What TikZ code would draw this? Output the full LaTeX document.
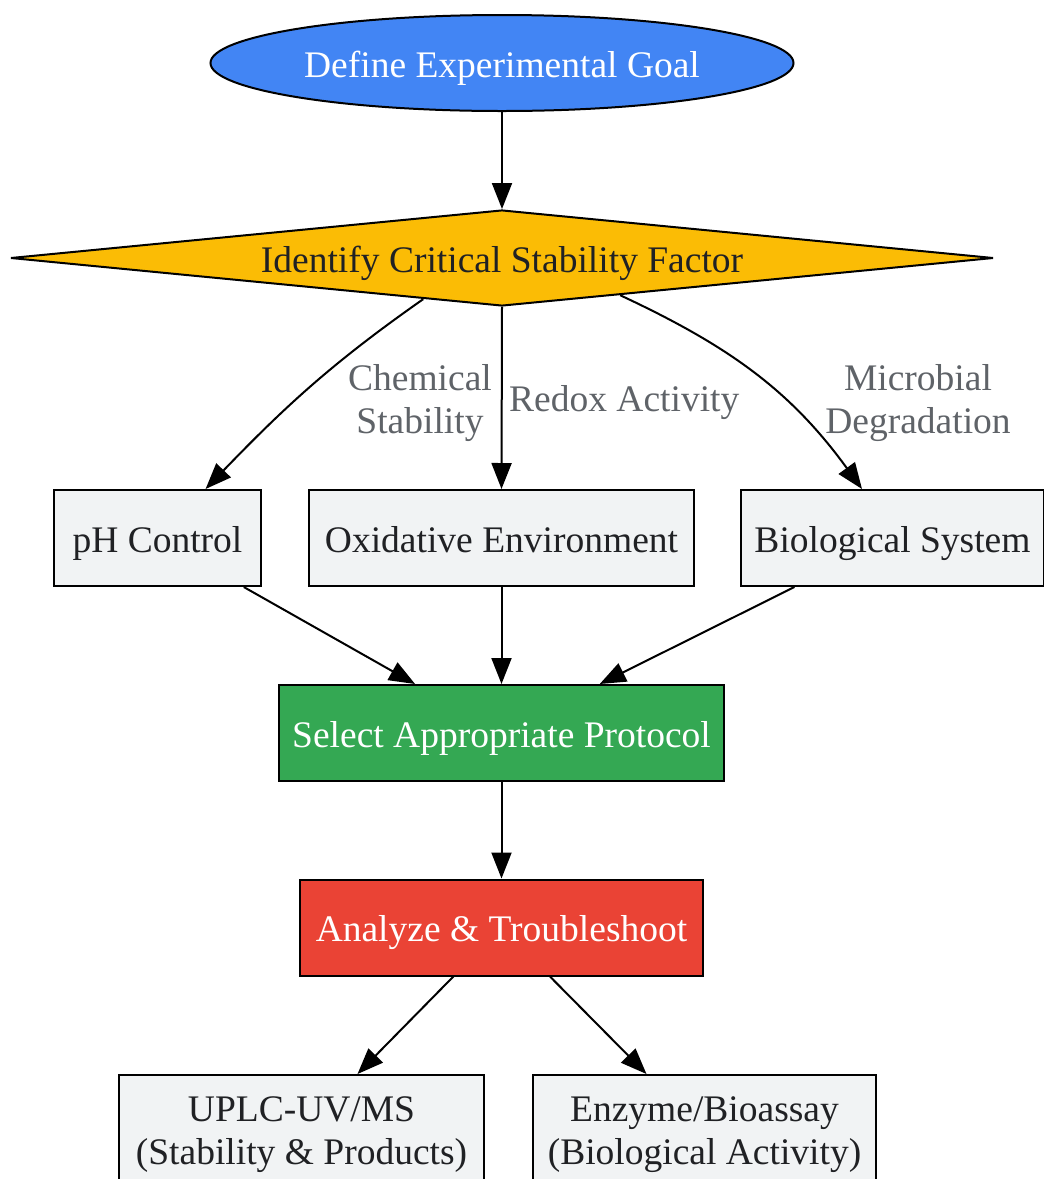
\documentclass[tikz,border=0pt]{standalone}
\usepackage{fontspec}
\setmainfont{Liberation Serif}
\usetikzlibrary{shapes.geometric,arrows.meta,calc}
\definecolor{goalblue}{HTML}{4285F4}
\definecolor{factoryellow}{HTML}{FBBC05}
\definecolor{protogreen}{HTML}{34A853}
\definecolor{analyzered}{HTML}{EA4335}
\definecolor{boxgray}{HTML}{F1F3F4}
\definecolor{textdark}{HTML}{202124}
\definecolor{labelgray}{HTML}{5F6368}
\tikzset{
    base/.style={draw=black, line width=2pt, text=textdark, inner sep=0pt,
        font=\fontsize{37.5}{43}\selectfont, align=center},
    oneline/.style={text height=34pt, text depth=6pt},
    box/.style={base, rectangle, fill=boxgray, minimum height=96pt},
    lbl/.style={text=labelgray, inner sep=0pt, align=center,
        font=\fontsize{37.5}{43}\selectfont},
    edge/.style={line width=2pt, -{Triangle[length=26pt,width=20pt]}}
}
\begin{document}
\begin{tikzpicture}[x=1pt,y=1pt]
            \useasboundingbox (0,0) rectangle (1044,-1179);
            \draw (502,-63) node[base,oneline,ellipse,fill=goalblue,text=white,minimum width=583pt,minimum height=96pt](G) {Define Experimental Goal};
            \draw (502,-258) node[base,oneline,diamond,aspect=10.2,fill=factoryellow,minimum width=983pt,minimum height=96pt](F) {Identify Critical Stability Factor};
            \draw (157.5,-538) node[box,oneline,minimum width=207pt](P) {pH Control};
            \draw (501.5,-538) node[box,oneline,minimum width=385pt](O) {Oxidative Environment};
            \draw (892.5,-538) node[box,oneline,minimum width=303pt](B) {Biological System};
            \draw (501.5,-733) node[box,oneline,fill=protogreen,text=white,minimum width=445pt](S) {Select Appropriate Protocol};
            \draw (501.5,-927.5) node[box,oneline,fill=analyzered,text=white,minimum width=403pt](A) {Analyze \& Troubleshoot};
            \draw (301.5,-1135) node[box,minimum width=365pt,minimum height=120pt](U) {UPLC-UV/MS\\(Stability \& Products)};
            \draw (704.5,-1135) node[box,minimum width=343pt,minimum height=120pt](E) {Enzyme/Bioassay\\(Biological Activity)};
            % edge labels
            \draw (420,-403) node[lbl](lc) {Chemical\\Stability};
            \draw (509,-403) node[lbl,anchor=west](lr) {Redox Activity};
            \draw (918,-403) node[lbl](lm) {Microbial\\Degradation};
            \draw[edge] (G) -- (F);
            \draw[edge] ($(F.south)!0.16!(F.west)$) to[out=215,in=46] ($(P.north west)!0.73!(P.north east)$);
            \draw[edge] (F.south) -- (O.north);
            \draw[edge] ($(F.south)!0.24!(F.east)$) to[out=-25,in=126] ($(B.north west)!0.4!(B.north east)$);
            \draw[edge] (P) -- (S);
            \draw[edge] (O) -- (S);
            \draw[edge] (B) -- (S);
            \draw[edge] (S) -- (A);
            \draw[edge] (A) -- ($(U.north)+(56,0)$);
            \draw[edge] (A) -- ($(E.north)+(-58,0)$);
        \end{tikzpicture}
\end{document}
